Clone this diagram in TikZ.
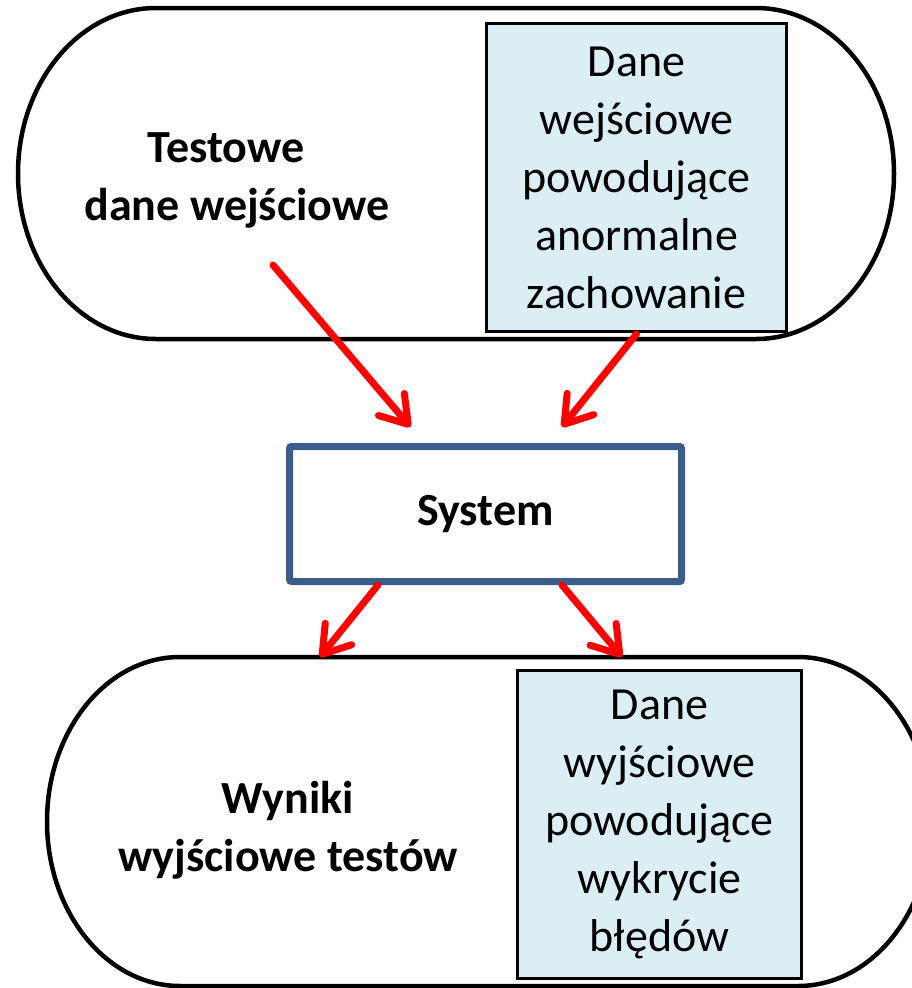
\documentclass[tikz,border=0pt]{standalone}
\usepackage{fontspec}
\setmainfont{Carlito}
\usetikzlibrary{arrows.meta,calc}
\definecolor{boxfill}{HTML}{DBEEF4}
\definecolor{sysblue}{HTML}{3A5E8C}
\definecolor{flowred}{HTML}{FF0000}
\begin{document}
\begin{tikzpicture}[x=1pt,y=1pt,
  stadium/.style={draw=black, line width=4.5pt, fill=white},
  databox/.style={draw=black, line width=3pt, fill=boxfill, inner sep=0pt,
    align=center, font=\fontsize{46}{58}\selectfont},
  sysbox/.style={draw=sysblue, line width=7pt, rounded corners=2pt, fill=white,
    minimum width=392pt, minimum height=135pt, inner sep=0pt,
    font=\fontsize{46}{58}\selectfont\bfseries},
  caption/.style={align=center, inner sep=0pt, font=\fontsize{46}{58}\selectfont\bfseries},
  flow/.style={draw=flowred, line width=7pt, line cap=round,
    -{Straight Barb[length=26pt,width=34pt,line cap=round,line join=round]}}
]
\useasboundingbox (0,0) rectangle (912,-988);
\fill[white] (0,0) rectangle (912,-988);

% input stadium
\draw[stadium] (156,-8) -- (756,-8)
  arc[start angle=90,end angle=-90,x radius=138,y radius=165.5]
  -- (156,-339)
  arc[start angle=270,end angle=90,x radius=138,y radius=165.5] -- cycle;

% output stadium
\draw[stadium] (180,-657) -- (798,-657)
  arc[start angle=90,end angle=-90,x radius=133,y radius=164.5]
  -- (180,-986)
  arc[start angle=270,end angle=90,x radius=133,y radius=164.5] -- cycle;

\node[databox, minimum width=300pt, minimum height=308pt] (inbox) at (636.5,-177.5)
  {Dane\\wejściowe\\powodujące\\anormalne\\zachowanie};
\node[databox, minimum width=284pt, minimum height=308pt] (outbox) at (659.5,-824.5)
  {Dane\\wyjściowe\\powodujące\\wykrycie\\błędów};

\node[caption] (inlabel) at (237,-180) {\hbox{Testowe\kern22pt}\\dane wejściowe};
\node[caption] (outlabel) at (288,-830) {Wyniki\\wyjściowe testów};

\node[sysbox] (sys) at (485.5,-514) {System};

% flows
\coordinate (insrc) at (273,-265);
\coordinate (outL) at (320,-657);
\coordinate (outR) at (622,-657);
\draw[flow] (insrc) -- ([xshift=-75pt,yshift=16pt]sys.north);
\draw[flow] ([yshift=-1pt]inbox.south) -- ([xshift=76.5pt,yshift=16pt]sys.north);
\draw[flow] ([xshift=-107.5pt]sys.south) -- (outL);
\draw[flow] ([xshift=76.5pt]sys.south) -- (outR);
\end{tikzpicture}
\end{document}
